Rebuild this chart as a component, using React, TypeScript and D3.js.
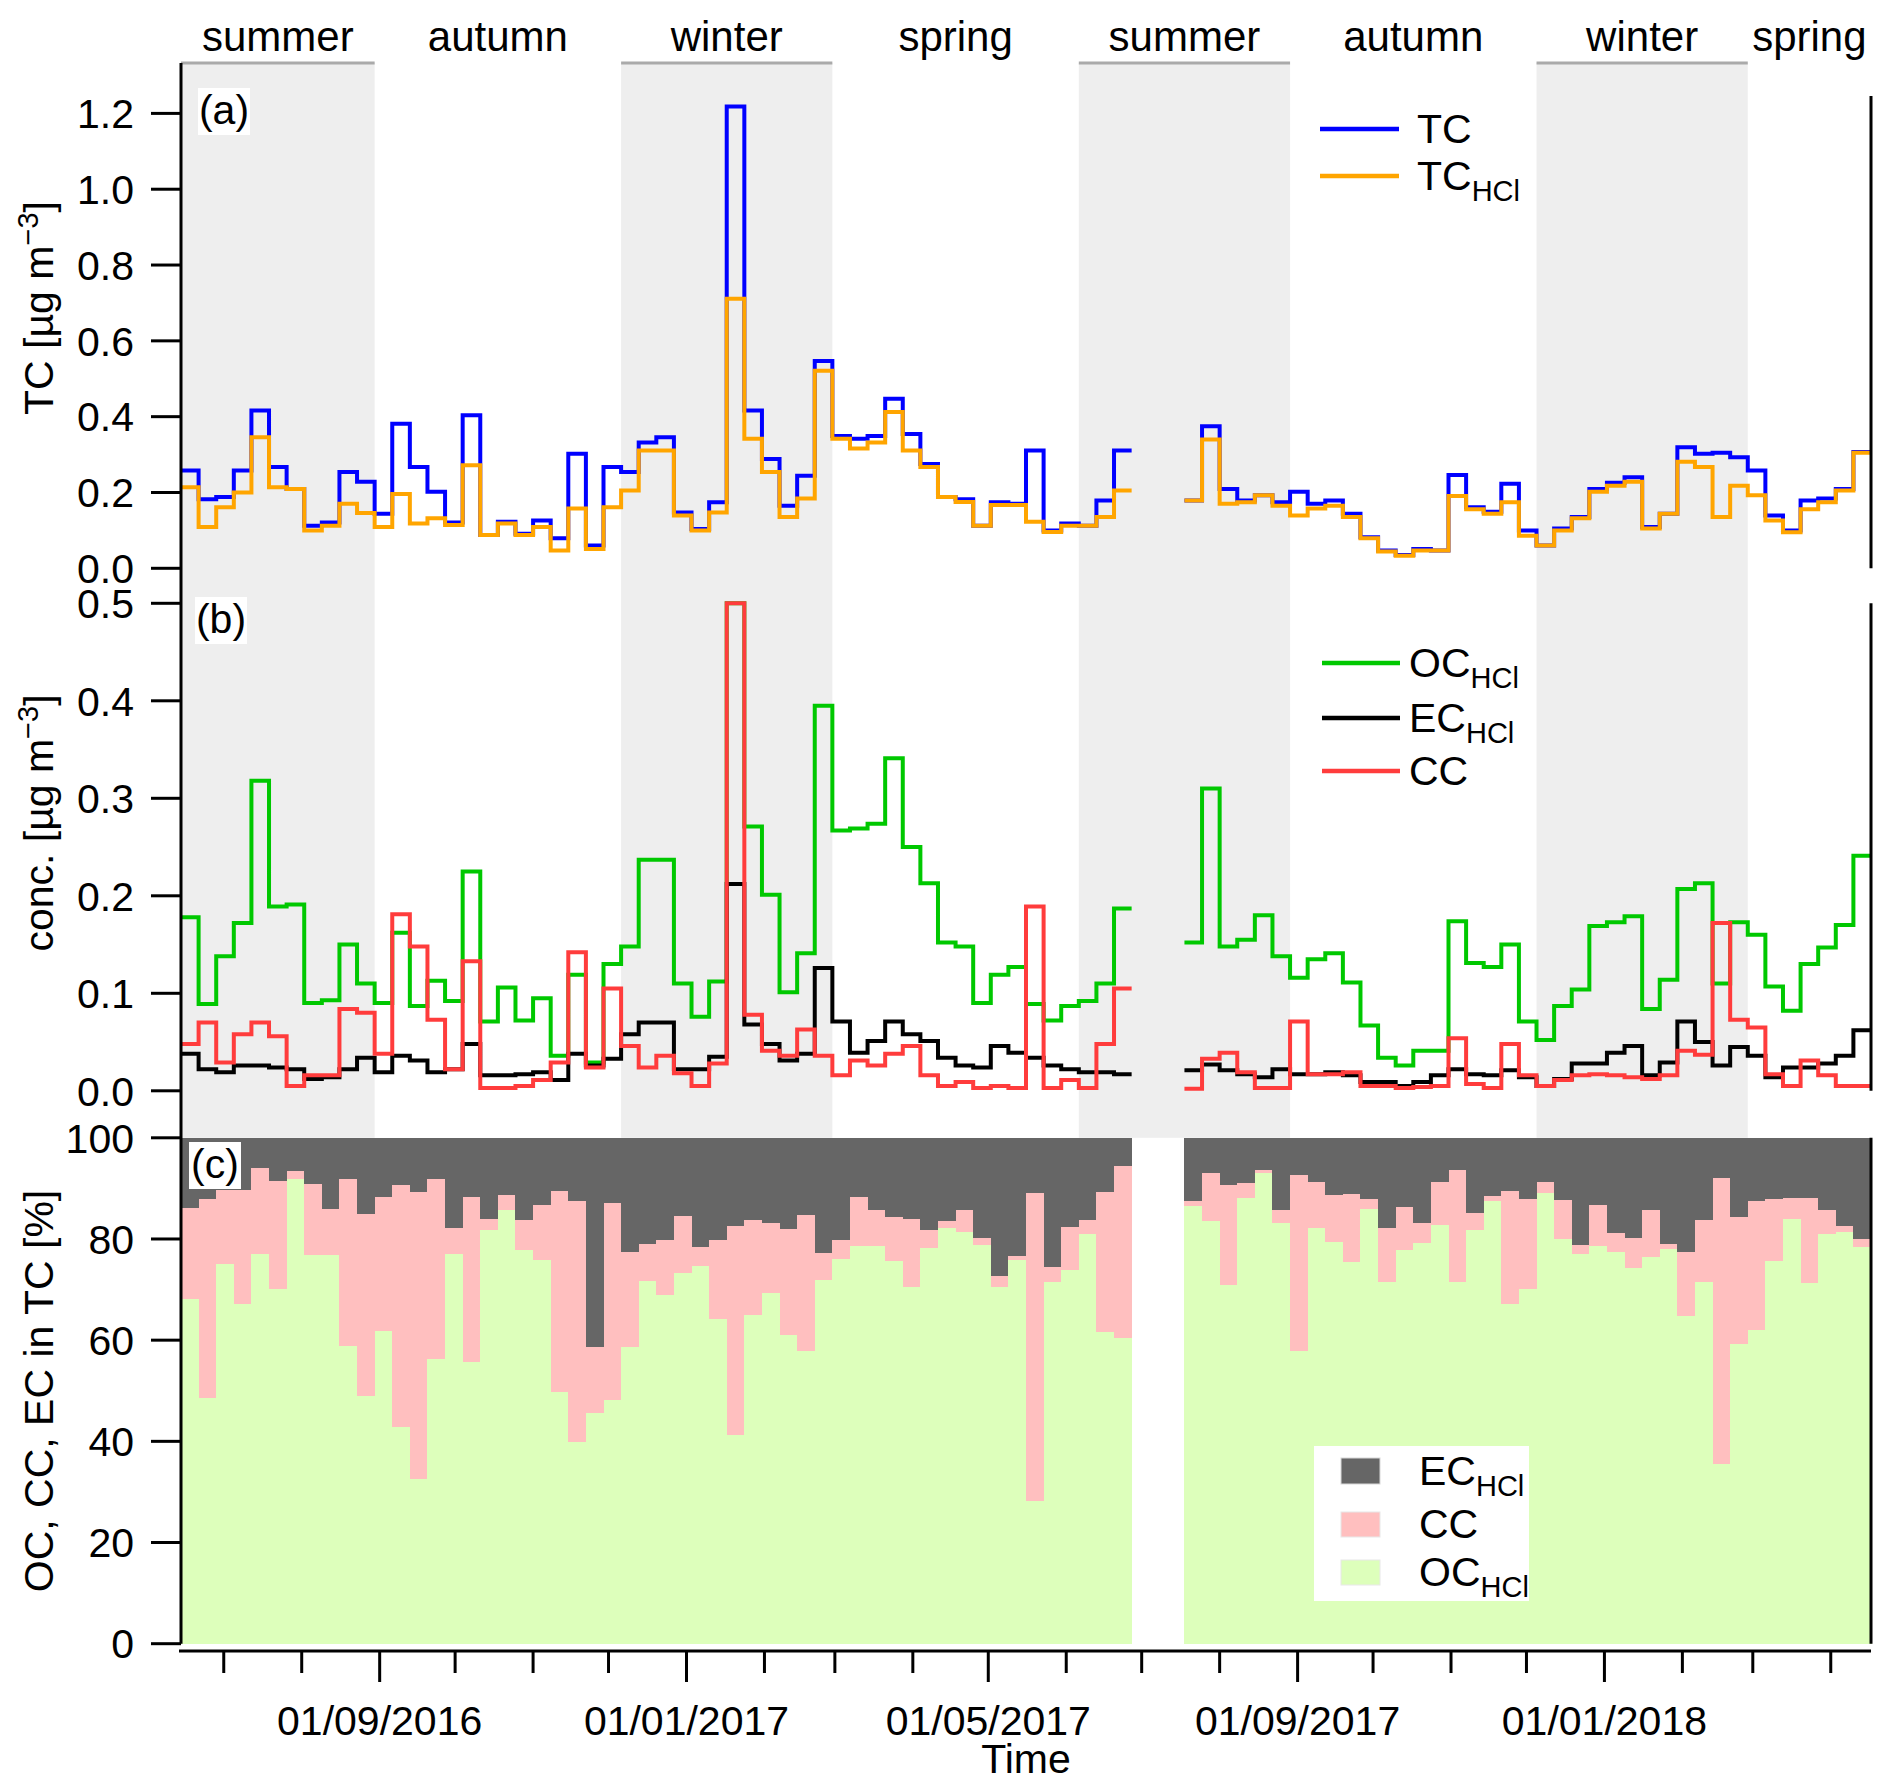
import * as d3 from "d3";

// Weekly carbon samples, two campaigns separated by a short gap.
// Panel a: TC / TC_HCl, panel b: OC_HCl / EC_HCl / CC, panel c: shares in TC.

const FONT = "'Liberation Sans', Arial, Helvetica, sans-serif";
const W = 1892;
const H = 1792;

// ---------------------------------------------------------------------------
// Data
// ---------------------------------------------------------------------------

const SEG1_START = new Date(2016, 5, 14);
const SEG2_START = new Date(2017, 6, 18);

const TC_1 = [
  0.258, 0.182, 0.188, 0.258, 0.416, 0.267, 0.209, 0.112, 0.121, 0.254,
  0.228, 0.144, 0.381, 0.267, 0.202, 0.121, 0.404, 0.088, 0.123, 0.091,
  0.126, 0.079, 0.302, 0.06, 0.267, 0.254, 0.332, 0.346, 0.147, 0.104,
  0.174, 1.218, 0.416, 0.288, 0.165, 0.244, 0.547, 0.349, 0.342, 0.349,
  0.447, 0.354, 0.275, 0.188, 0.182, 0.112, 0.174, 0.17, 0.311, 0.1,
  0.118, 0.112, 0.179, 0.311,
];
const TC_HCL_1 = [
  0.214, 0.109, 0.161, 0.2, 0.346, 0.214, 0.209, 0.1, 0.112, 0.17,
  0.146, 0.109, 0.196, 0.118, 0.132, 0.114, 0.272, 0.088, 0.118, 0.088,
  0.109, 0.047, 0.158, 0.051, 0.161, 0.205, 0.311, 0.311, 0.139, 0.1,
  0.147, 0.711, 0.342, 0.254, 0.135, 0.184, 0.521, 0.342, 0.316, 0.332,
  0.412, 0.311, 0.267, 0.188, 0.175, 0.112, 0.167, 0.167, 0.123, 0.096,
  0.112, 0.112, 0.135, 0.205,
];
const TC_2 = [
  0.179, 0.375, 0.209, 0.179, 0.193, 0.174, 0.202, 0.17, 0.179, 0.144,
  0.082, 0.047, 0.035, 0.051, 0.047, 0.246, 0.161, 0.149, 0.223, 0.1,
  0.06, 0.105, 0.135, 0.209, 0.226, 0.24, 0.109, 0.144, 0.319, 0.302,
  0.305, 0.293, 0.258, 0.139, 0.1, 0.179, 0.184, 0.209, 0.307,
];
const TC_HCL_2 = [
  0.179, 0.34, 0.17, 0.174, 0.193, 0.165, 0.139, 0.158, 0.165, 0.135,
  0.079, 0.044, 0.033, 0.047, 0.047, 0.191, 0.156, 0.144, 0.174, 0.086,
  0.06, 0.1, 0.132, 0.202, 0.218, 0.228, 0.105, 0.144, 0.281, 0.267,
  0.135, 0.218, 0.193, 0.126, 0.095, 0.156, 0.174, 0.205, 0.305,
];

const OC_1 = [
  0.178, 0.089, 0.138, 0.172, 0.318, 0.189, 0.191, 0.09, 0.093, 0.15,
  0.11, 0.09, 0.162, 0.087, 0.113, 0.092, 0.225, 0.071, 0.106, 0.072,
  0.095, 0.036, 0.119, 0.029, 0.13, 0.148, 0.237, 0.237, 0.11, 0.076,
  0.112, 0.5, 0.271, 0.201, 0.101, 0.141, 0.395, 0.267, 0.269, 0.274,
  0.341, 0.25, 0.213, 0.152, 0.148, 0.09, 0.119, 0.127, 0.089, 0.072,
  0.087, 0.092, 0.11, 0.187,
];
const EC_1 = [
  0.038, 0.022, 0.019, 0.026, 0.026, 0.024, 0.022, 0.012, 0.014, 0.022,
  0.034, 0.019, 0.036, 0.031, 0.019, 0.022, 0.048, 0.016, 0.016, 0.017,
  0.019, 0.011, 0.038, 0.026, 0.033, 0.058, 0.07, 0.07, 0.022, 0.022,
  0.035, 0.212, 0.068, 0.048, 0.031, 0.038, 0.126, 0.071, 0.039, 0.051,
  0.071, 0.058, 0.051, 0.034, 0.026, 0.024, 0.046, 0.039, 0.034, 0.026,
  0.022, 0.019, 0.019, 0.017,
];
const CC_1 = [
  0.048, 0.07, 0.029, 0.058, 0.07, 0.056, 0.005, 0.016, 0.016, 0.084,
  0.08, 0.038, 0.181, 0.148, 0.073, 0.022, 0.133, 0.003, 0.003, 0.005,
  0.011, 0.029, 0.142, 0.024, 0.105, 0.046, 0.024, 0.036, 0.018, 0.005,
  0.028, 0.5, 0.078, 0.041, 0.036, 0.063, 0.036, 0.016, 0.031, 0.026,
  0.038, 0.046, 0.016, 0.005, 0.009, 0.003, 0.005, 0.003, 0.189, 0.003,
  0.011, 0.003, 0.048, 0.105,
];
const OC_2 = [
  0.152, 0.31, 0.148, 0.155, 0.18, 0.138, 0.116, 0.135, 0.141, 0.111,
  0.067, 0.034, 0.026, 0.041, 0.041, 0.174, 0.131, 0.127, 0.15, 0.071,
  0.052, 0.087, 0.104, 0.169, 0.173, 0.179, 0.084, 0.114, 0.207, 0.213,
  0.11, 0.173, 0.16, 0.107, 0.082, 0.13, 0.147, 0.17, 0.241,
];
const EC_2 = [
  0.021, 0.027, 0.021, 0.017, 0.014, 0.022, 0.017, 0.017, 0.019, 0.016,
  0.009, 0.009, 0.005, 0.009, 0.016, 0.022, 0.017, 0.016, 0.021, 0.014,
  0.005, 0.012, 0.028, 0.028, 0.039, 0.046, 0.016, 0.029, 0.071, 0.05,
  0.026, 0.045, 0.036, 0.014, 0.024, 0.024, 0.028, 0.036, 0.062,
];
const CC_2 = [
  0.002, 0.033, 0.039, 0.019, 0.003, 0.003, 0.071, 0.017, 0.017, 0.019,
  0.005, 0.005, 0.003, 0.004, 0.005, 0.054, 0.007, 0.003, 0.048, 0.016,
  0.005, 0.011, 0.016, 0.017, 0.016, 0.014, 0.012, 0.016, 0.041, 0.037,
  0.172, 0.073, 0.065, 0.017, 0.005, 0.031, 0.016, 0.005, 0.005,
];

// panel c: cumulative shares in TC [%] (OC, then OC + CC; EC fills to 100)
const OC_PCT_1 = [
  68.2, 48.5, 75.1, 67.1, 77.1, 70.2, 91.9, 76.8, 76.9, 58.8,
  49.0, 61.8, 42.8, 32.5, 56.3, 77.0, 55.6, 81.7, 85.8, 77.9,
  75.8, 49.7, 39.8, 45.7, 48.1, 58.7, 71.7, 69.0, 73.3, 74.7,
  64.2, 41.3, 64.9, 69.4, 61.1, 57.8, 71.8, 76.1, 78.6, 78.6,
  75.6, 70.5, 78.2, 82.2, 81.4, 78.9, 70.5, 75.8, 28.3, 71.4,
  73.9, 80.9, 61.7, 60.4,
];
const OCCC_PCT_1 = [
  86.1, 88.0, 89.6, 89.6, 94.1, 91.4, 93.5, 90.8, 86.0, 91.8,
  85.0, 88.3, 90.6, 89.3, 91.9, 82.2, 88.3, 84.0, 88.6, 83.8,
  86.8, 89.4, 87.5, 58.6, 87.2, 77.4, 79.1, 79.7, 84.6, 78.4,
  79.7, 82.6, 83.8, 83.2, 81.9, 84.7, 77.2, 79.7, 88.3, 85.7,
  84.4, 83.9, 81.8, 83.5, 85.7, 80.2, 72.7, 76.6, 89.1, 74.5,
  82.3, 83.8, 89.3, 94.5,
];
const OC_PCT_2 = [
  86.5, 83.5, 71.0, 88.1, 93.1, 83.2, 57.8, 82.2, 79.4, 75.4,
  86.0, 71.4, 77.9, 79.2, 82.7, 71.4, 81.7, 87.5, 67.2, 70.2,
  89.1, 79.9, 77.1, 78.6, 77.4, 74.3, 76.4, 78.1, 64.7, 71.4,
  35.6, 59.3, 62.0, 75.6, 84.0, 71.2, 80.9, 81.4, 78.4,
];
const OCCC_PCT_2 = [
  87.5, 93.1, 90.6, 91.0, 93.6, 85.7, 92.6, 91.3, 88.6, 88.8,
  88.0, 82.2, 86.3, 83.2, 91.2, 93.6, 85.2, 88.4, 89.5, 87.9,
  91.2, 87.7, 78.9, 86.7, 81.1, 80.1, 85.7, 79.1, 77.5, 83.8,
  92.1, 84.4, 87.5, 87.9, 88.1, 88.1, 85.7, 82.6, 79.9,
];

const SEASON_NAMES = [
  "summer", "autumn", "winter", "spring",
  "summer", "autumn", "winter", "spring",
];
const SEASON_EDGES = [
  new Date(2016, 5, 14), new Date(2016, 7, 30), new Date(2016, 11, 6),
  new Date(2017, 1, 28), new Date(2017, 5, 6), new Date(2017, 7, 29),
  new Date(2017, 11, 5), new Date(2018, 1, 27), new Date(2018, 3, 17),
];

const A_TICKS = [0, 0.2, 0.4, 0.6, 0.8, 1.0, 1.2];
const B_TICKS = [0, 0.1, 0.2, 0.3, 0.4, 0.5];
const C_TICKS = [0, 20, 40, 60, 80, 100];

// ---------------------------------------------------------------------------
// Layout
// ---------------------------------------------------------------------------

const X0 = 181;
const X1 = 1871;
const BAND_TOP = 63;
const C_TOP = 1137.8;
const C_BOT = 1643.7;
const AXIS_Y = 1651;
const TICK = 30;
const FS = 41;
const SUB = 29;

const SHADE = "#eeeeee";
const BAND_LINE = "#aaaaaa";

const x = d3.scaleTime()
  .domain([SEASON_EDGES[0], SEASON_EDGES[SEASON_EDGES.length - 1]])
  .range([X0, X1]);
const yA = d3.scaleLinear().domain([0, 1.2]).range([568.3, 113.4]);
const yB = d3.scaleLinear().domain([0, 0.5]).range([1090.8, 603.3]);
const yC = d3.scaleLinear().domain([0, 100]).range([C_BOT, C_TOP]);

const weekly = (start: Date, i: number) => d3.timeDay.offset(start, 7 * i);

function stepPath(start: Date, vals: number[], y: d3.ScaleLinear<number, number>) {
  const pts: [number, number][] = vals.map((v, i) => [x(weekly(start, i)), y(v)]);
  pts.push([x(weekly(start, vals.length)), y(vals[vals.length - 1])]);
  return d3.line().curve(d3.curveStepAfter)(pts) ?? "";
}

function Sub({ main, sub }: { main: string; sub: string }) {
  return (
    <>
      {main}
      <tspan dy={11} fontSize={SUB}>{sub}</tspan>
    </>
  );
}

function YTicks({ ticks, scale, fmt }: {
  ticks: number[];
  scale: d3.ScaleLinear<number, number>;
  fmt: (v: number) => string;
}) {
  return (
    <g>
      {ticks.map((t) => (
        <g key={t}>
          <line x1={X0 - TICK} x2={X0} y1={scale(t)} y2={scale(t)} stroke="#000" strokeWidth={3} />
          <text x={X0 - 47} y={scale(t)} dy="0.36em" textAnchor="end" fontSize={FS}>
            {fmt(t)}
          </text>
        </g>
      ))}
    </g>
  );
}

function PanelLabel({ label, x0, y0 }: { label: string; x0: number; y0: number }) {
  return (
    <g>
      <rect x={x0} y={y0} width={52} height={47} fill="#fff" />
      <text x={x0 + 26} y={y0 + 36} textAnchor="middle" fontSize={FS}>{label}</text>
    </g>
  );
}

export default function App() {
  const months = d3.timeMonth.range(new Date(2016, 6, 1), new Date(2018, 4, 1));
  const fmtDate = d3.timeFormat("%d/%m/%Y");
  const f1 = d3.format(".1f");

  const segs = [
    { start: SEG1_START, tc: TC_1, tch: TC_HCL_1, oc: OC_1, ec: EC_1, cc: CC_1, ocp: OC_PCT_1, occp: OCCC_PCT_1 },
    { start: SEG2_START, tc: TC_2, tch: TC_HCL_2, oc: OC_2, ec: EC_2, cc: CC_2, ocp: OC_PCT_2, occp: OCCC_PCT_2 },
  ];

  return (
    <div style={{ position: "absolute", left: 0, top: 0 }}>
      <svg width={W} height={H} fontFamily={FONT} style={{ display: "block", background: "#fff" }}>
        {/* season bands */}
        {SEASON_NAMES.map((name, i) => {
          const a = x(SEASON_EDGES[i]);
          const b = x(SEASON_EDGES[i + 1]);
          const shaded = name === "summer" || name === "winter";
          return (
            <g key={i}>
              {shaded && (
                <>
                  <rect x={a} y={BAND_TOP} width={b - a} height={C_TOP - BAND_TOP} fill={SHADE} />
                  <line x1={a} x2={b} y1={BAND_TOP} y2={BAND_TOP} stroke={BAND_LINE} strokeWidth={3} />
                </>
              )}
              <text x={(a + b) / 2} y={51} textAnchor="middle" fontSize={42}>{name}</text>
            </g>
          );
        })}

        {/* panel c stacked shares */}
        <g shapeRendering="crispEdges">
          {segs.map((s, si) =>
            s.ocp.map((oc, i) => {
              const a = x(weekly(s.start, i));
              const b = x(weekly(s.start, i + 1)) + 0.6;
              const occ = s.occp[i];
              return (
                <g key={`${si}-${i}`}>
                  <rect x={a} width={b - a} y={yC(oc)} height={yC(0) - yC(oc)} fill="#ddffbb" />
                  <rect x={a} width={b - a} y={yC(occ)} height={yC(oc) - yC(occ)} fill="#ffbfbf" />
                  <rect x={a} width={b - a} y={yC(100)} height={yC(occ) - yC(100)} fill="#666666" />
                </g>
              );
            }),
          )}
        </g>

        {/* panel a lines */}
        <g fill="none" strokeWidth={4} strokeLinejoin="miter">
          {segs.map((s, si) => (
            <g key={si}>
              <path d={stepPath(s.start, s.tc, yA)} stroke="#0000ff" />
              <path d={stepPath(s.start, s.tch, yA)} stroke="#ffa500" />
            </g>
          ))}
        </g>

        {/* panel b lines */}
        <g fill="none" strokeWidth={4} strokeLinejoin="miter">
          {segs.map((s, si) => (
            <g key={si}>
              <path d={stepPath(s.start, s.oc, yB)} stroke="#00c800" />
              <path d={stepPath(s.start, s.ec, yB)} stroke="#000000" />
              <path d={stepPath(s.start, s.cc, yB)} stroke="#ff3c3c" />
            </g>
          ))}
        </g>

        {/* frame lines */}
        <line x1={X0} x2={X0} y1={BAND_TOP} y2={C_BOT} stroke="#000" strokeWidth={3} />
        <line x1={X1} x2={X1} y1={96} y2={yA(0)} stroke="#000" strokeWidth={3} />
        <line x1={X1} x2={X1} y1={yB(0.5)} y2={yB(0)} stroke="#000" strokeWidth={3} />
        <line x1={X1} x2={X1} y1={C_TOP} y2={C_BOT} stroke="#000" strokeWidth={3} />

        <YTicks ticks={A_TICKS} scale={yA} fmt={f1} />
        <YTicks ticks={B_TICKS} scale={yB} fmt={f1} />
        <YTicks ticks={C_TICKS} scale={yC} fmt={(v) => String(v)} />

        {/* time axis */}
        <line x1={X0 - 2} x2={X1} y1={AXIS_Y} y2={AXIS_Y} stroke="#000" strokeWidth={3} />
        {months.map((m) => {
          const major = m.getMonth() % 4 === 0;
          const px = x(m);
          return (
            <g key={m.getTime()}>
              <line x1={px} x2={px} y1={AXIS_Y} y2={AXIS_Y + (major ? 31 : 22)} stroke="#000" strokeWidth={3} />
              {major && (
                <text x={px} y={1735} textAnchor="middle" fontSize={FS}>{fmtDate(m)}</text>
              )}
            </g>
          );
        })}
        <text x={(X0 + X1) / 2} y={1773} textAnchor="middle" fontSize={FS}>Time</text>

        {/* axis titles */}
        <text transform="translate(53,308) rotate(-90)" textAnchor="middle" fontSize={FS}>
          TC [µg m<tspan dy={-15} fontSize={SUB}>−3</tspan><tspan dy={15}>]</tspan>
        </text>
        <text transform="translate(53,823) rotate(-90)" textAnchor="middle" fontSize={FS}>
          conc. [µg m<tspan dy={-15} fontSize={SUB}>−3</tspan><tspan dy={15}>]</tspan>
        </text>
        <text transform="translate(53,1391) rotate(-90)" textAnchor="middle" fontSize={FS}>
          OC, CC, EC in TC [%]
        </text>

        <PanelLabel label="(a)" x0={198} y0={88} />
        <PanelLabel label="(b)" x0={195} y0={597} />
        <PanelLabel label="(c)" x0={189} y0={1142} />

        {/* legend a */}
        <g fontSize={FS}>
          <line x1={1320} x2={1399} y1={129} y2={129} stroke="#0000ff" strokeWidth={4.5} />
          <text x={1417} y={143}>TC</text>
          <line x1={1320} x2={1399} y1={176} y2={176} stroke="#ffa500" strokeWidth={4.5} />
          <text x={1417} y={190}><Sub main="TC" sub="HCl" /></text>
        </g>

        {/* legend b */}
        <g fontSize={FS}>
          <line x1={1322} x2={1400} y1={663} y2={663} stroke="#00c800" strokeWidth={4.5} />
          <text x={1409} y={677}><Sub main="OC" sub="HCl" /></text>
          <line x1={1322} x2={1400} y1={718} y2={718} stroke="#000" strokeWidth={4.5} />
          <text x={1409} y={732}><Sub main="EC" sub="HCl" /></text>
          <line x1={1322} x2={1400} y1={771} y2={771} stroke="#ff3c3c" strokeWidth={4.5} />
          <text x={1409} y={785}>CC</text>
        </g>

        {/* legend c */}
        <g fontSize={FS}>
          <rect x={1314} y={1446} width={215} height={155} fill="#fff" />
          <rect x={1341} y={1458} width={39} height={26} fill="#666666" stroke="#d8d8d8" strokeWidth={1} />
          <text x={1419} y={1485}><Sub main="EC" sub="HCl" /></text>
          <rect x={1341} y={1512} width={39} height={25} fill="#ffbfbf" stroke="#e8e8e8" strokeWidth={1} />
          <text x={1419} y={1538}>CC</text>
          <rect x={1341} y={1560} width={39} height={25} fill="#ddffbb" stroke="#e8e8e8" strokeWidth={1} />
          <text x={1419} y={1586}><Sub main="OC" sub="HCl" /></text>
        </g>
      </svg>
    </div>
  );
}
